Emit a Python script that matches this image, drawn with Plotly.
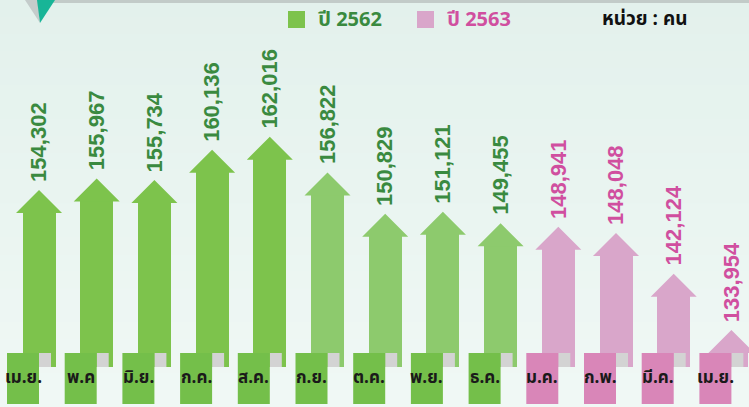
import plotly.graph_objects as go

# ---------------- data ----------------
months_2562 = ["เม.ย.", "พ.ค", "มิ.ย.", "ก.ค.", "ส.ค.", "ก.ย.", "ต.ค.", "พ.ย.", "ธ.ค."]
values_2562 = [154302, 155967, 155734, 160136, 162016, 156822, 150829, 151121, 149455]
months_2563 = ["ม.ค.", "ก.พ.", "มี.ค.", "เม.ย."]
values_2563 = [148941, 148048, 142124, 133954]
legend_labels = ["ปี 2562", "ปี 2563"]
unit_label = "หน่วย : คน"

# ---------------- styling ----------------
W, H = 749, 407
BASE = 128560
Y_TOP, Y_BOT = 181903, 122746
X_LO, X_HI = -0.676, 12.305
upp = (Y_TOP - Y_BOT) / H      # data units per pixel (y)
xpp = (X_HI - X_LO) / W        # category units per pixel (x)

HEAD_H = 23 * upp
HEAD_HW = 23 * xpp
SHAFT_W = 33 * xpp

GREEN_DARK = "#7dc34c"
GREEN_LIGHT = "#8dca6d"
PINK = "#d9a6ca"
GREEN_TAB = "#74bf4a"
PINK_TAB = "#d986b8"
GREEN_TXT = "#3a8a40"
PINK_TXT = "#d04f9f"
CURL = "#d3d3d3"

months = months_2562 + months_2563
values = values_2562 + values_2563
n1 = len(values_2562)
xs = list(range(len(values)))
bar_colors = [GREEN_DARK if i < 5 else GREEN_LIGHT for i in range(n1)] + [PINK] * len(values_2563)
tab_colors = [GREEN_TAB] * n1 + [PINK_TAB] * len(values_2563)
txt_colors = [GREEN_TXT] * n1 + [PINK_TXT] * len(values_2563)

fig = go.Figure()

# shafts
fig.add_trace(go.Bar(
    x=xs, y=[v - HEAD_H - BASE + upp for v in values], base=BASE,
    width=SHAFT_W, marker=dict(color=bar_colors, line=dict(width=0)),
    showlegend=False, hoverinfo="skip"))

# arrow heads, grouped by colour
groups = {}
for i, v in enumerate(values):
    groups.setdefault(bar_colors[i], []).append((i, v))
for col, items in groups.items():
    hx, hy = [], []
    for i, v in items:
        hx += [i - HEAD_HW, i, i + HEAD_HW, i - HEAD_HW, None]
        hy += [v - HEAD_H, v, v - HEAD_H, v - HEAD_H, None]
    fig.add_trace(go.Scatter(x=hx, y=hy, mode="lines", fill="toself", fillcolor=col,
                             line=dict(width=0, color=col), showlegend=False, hoverinfo="skip"))

shapes = []
# background gradient bands
top_c = (0xe3, 0xf1, 0xec)
bot_c = (0xf0, 0xf8, 0xf5)
NB = 24
for k in range(NB):
    t = k / (NB - 1)
    c = tuple(round(top_c[j] + (bot_c[j] - top_c[j]) * t) for j in range(3))
    shapes.append(dict(type="rect", xref="paper", yref="paper", x0=0, x1=1,
                       y0=1 - (k + 1) / NB - 0.002, y1=1 - k / NB,
                       fillcolor="rgb(%d,%d,%d)" % c, line=dict(width=0), layer="below"))

# top strip and pointer
def px(x):
    return x / W
def py(y):
    return 1 - y / H

shapes.append(dict(type="rect", xref="paper", yref="paper", x0=px(40), x1=1, y0=py(3), y1=1,
                   fillcolor="#c2cbc8", line=dict(width=0)))
shapes.append(dict(type="path", xref="paper", yref="paper",
                   path="M %f %f L %f %f L %f %f Z" % (px(25), py(0), px(38), py(0), px(40), py(23)),
                   fillcolor="#c4cccb", line=dict(width=0)))
shapes.append(dict(type="path", xref="paper", yref="paper",
                   path="M %f %f L %f %f L %f %f Z" % (px(37), py(0), px(55), py(0), px(40), py(23)),
                   fillcolor="#18b597", line=dict(width=0)))

# tabs with curl
for i in xs:
    shapes.append(dict(type="rect", xref="x", yref="y", x0=i, x1=i + 12 * xpp,
                       y0=BASE, y1=BASE + 14 * upp, fillcolor=CURL, line=dict(width=0)))
    shapes.append(dict(type="rect", xref="x", yref="y", x0=i - 32 * xpp, x1=i,
                       y0=BASE - 37 * upp, y1=BASE + 14 * upp, fillcolor=tab_colors[i],
                       line=dict(width=0)))

annotations = []
for i, v in enumerate(values):
    annotations.append(dict(x=i, y=v, xref="x", yref="y", text=f"{v:,}", showarrow=False,
                            textangle=-90, yanchor="bottom", xanchor="center", yshift=6,
                            font=dict(family="Liberation Sans", size=22, color=txt_colors[i],
                                      weight="bold")))
    annotations.append(dict(x=i - 16 * xpp, y=BASE - 11 * upp, xref="x", yref="y", text=months[i],
                            showarrow=False, xanchor="center", yanchor="middle",
                            font=dict(family="Noto Sans Thai, Tahoma, sans-serif", size=17,
                                      color="#1a1a1a", weight="bold")))

# custom legend
leg = [(288, GREEN_DARK, GREEN_TXT, legend_labels[0]), (417, PINK, PINK_TXT, legend_labels[1])]
for x0, col, tcol, lab in leg:
    shapes.append(dict(type="rect", xref="paper", yref="paper", x0=px(x0), x1=px(x0 + 17),
                       y0=py(28), y1=py(11), fillcolor=col, line=dict(width=0)))
    annotations.append(dict(x=px(x0 + 28), y=py(20), xref="paper", yref="paper", text=lab,
                            showarrow=False, xanchor="left", yanchor="middle",
                            font=dict(family="Noto Sans Thai, sans-serif", size=20, color=tcol,
                                      weight="bold")))
annotations.append(dict(x=px(600), y=py(20), xref="paper", yref="paper", text=unit_label,
                        showarrow=False, xanchor="left", yanchor="middle",
                        font=dict(family="Noto Sans Thai, sans-serif", size=19, color="#111111",
                                  weight="bold")))

fig.update_layout(
    width=W, height=H, margin=dict(l=0, r=0, t=0, b=0),
    paper_bgcolor="#eaf5f1", plot_bgcolor="rgba(0,0,0,0)",
    xaxis=dict(range=[X_LO, X_HI], visible=False, fixedrange=True),
    yaxis=dict(range=[Y_BOT, Y_TOP], visible=False, fixedrange=True),
    shapes=shapes, annotations=annotations, showlegend=False, bargap=0,
)

fig.write_html("out.html", config={"displayModeBar": False},
               post_script="document.body.style.margin='0';document.body.style.overflow='hidden';")
